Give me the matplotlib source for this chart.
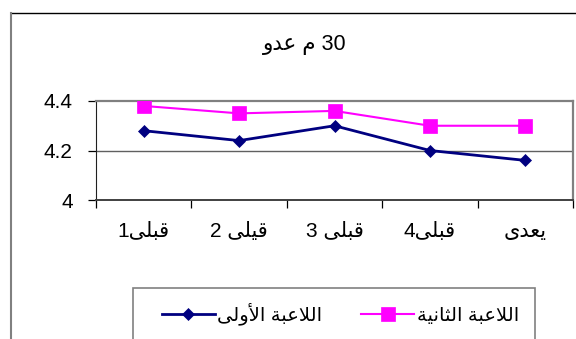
import re
import numpy as np
import matplotlib
matplotlib.use("Agg")
import matplotlib.pyplot as plt
from matplotlib.lines import Line2D
from matplotlib.patches import Rectangle

plt.rcParams['font.family'] = ['Liberation Sans', 'DejaVu Sans']

# data
title = "30 م عدو"
categories = ["قبلى1", "قيلى 2", "قبلى 3", "قبلى4", "يعدى"]
series_names = ["اللاعبة الأولى", "اللاعبة الثانية"]
player1 = [4.28, 4.24, 4.30, 4.20, 4.16]
player2 = [4.38, 4.35, 4.36, 4.30, 4.30]
yticks = [4.0, 4.2, 4.4]
ytick_labels = ["4", "4.2", "4.4"]

# ----------------------------------------------------------------------------
# matplotlib has no arabic shaping, so do a small one by hand
# (isolated, final, initial, medial) presentation forms
# ----------------------------------------------------------------------------
FORMS = {
    'ا': ('\uFE8D', '\uFE8E', None, None),
    'أ': ('\uFE83', '\uFE84', None, None),
    'ب': ('\uFE8F', '\uFE90', '\uFE91', '\uFE92'),
    'ة': ('\uFE93', '\uFE94', None, None),
    'ث': ('\uFE99', '\uFE9A', '\uFE9B', '\uFE9C'),
    'د': ('\uFEA9', '\uFEAA', None, None),
    'ع': ('\uFEC9', '\uFECA', '\uFECB', '\uFECC'),
    'ق': ('\uFED5', '\uFED6', '\uFED7', '\uFED8'),
    'ل': ('\uFEDD', '\uFEDE', '\uFEDF', '\uFEE0'),
    'م': ('\uFEE1', '\uFEE2', '\uFEE3', '\uFEE4'),
    'ن': ('\uFEE5', '\uFEE6', '\uFEE7', '\uFEE8'),
    'و': ('\uFEED', '\uFEEE', None, None),
    'ى': ('\uFEEF', '\uFEF0', '\uFBE8', '\uFBE9'),
    'ي': ('\uFEF1', '\uFEF2', '\uFEF3', '\uFEF4'),
    'لا': ('\uFEFB', '\uFEFC', None, None),
    'لأ': ('\uFEF7', '\uFEF8', None, None),
}


def shape_word(word):
    units = []
    i = 0
    while i < len(word):
        if word[i] == 'ل' and i + 1 < len(word) and word[i:i + 2] in FORMS:
            units.append(word[i:i + 2])
            i += 2
        else:
            units.append(word[i])
            i += 1
    out = []
    for k, u in enumerate(units):
        f = FORMS[u]
        joins_prev = k > 0 and FORMS[units[k - 1]][2] is not None
        joins_next = f[2] is not None and k + 1 < len(units)
        if joins_prev and joins_next:
            out.append(f[3])
        elif joins_prev:
            out.append(f[1])
        elif joins_next:
            out.append(f[2])
        else:
            out.append(f[0])
    return ''.join(reversed(out))


def ar(text):
    # rtl paragraph: reverse the runs, shape the arabic ones
    tokens = re.findall(r'[\u0600-\u06FF]+|\d+|\s+|.', text)
    vis = []
    for t in reversed(tokens):
        vis.append(shape_word(t) if t[0] in FORMS or t[0] in 'لأ' else t)
    return ''.join(vis)


# ----------------------------------------------------------------------------
# plot
# ----------------------------------------------------------------------------
W, H = 576, 339
fig = plt.figure(figsize=(W / 100, H / 100), dpi=100)

# chart frame (cut off at the right and bottom)
fig.add_artist(Line2D([11 / W, 1], [1 - 13 / H] * 2, transform=fig.transFigure,
                      color='black', lw=1.0))
fig.add_artist(Line2D([11 / W] * 2, [1 - 13 / H, 0], transform=fig.transFigure,
                      color='#808080', lw=1.5))

ax = fig.add_axes([96 / W, 1 - 200 / H, 477 / W, 99 / H])
x = np.arange(len(categories))

ax.plot(x, player1, color='#000080', lw=2.0, marker='D', markersize=6.5,
        markeredgewidth=0.5, label=ar(series_names[0]), zorder=3)
ax.plot(x, player2, color='#FF00FF', lw=1.5, marker='s', markersize=9.5,
        markeredgewidth=0.5, label=ar(series_names[1]), zorder=3)

ax.set_xlim(-0.5, len(categories) - 0.5)
ax.set_ylim(4.0, 4.4)

ax.set_yticks(yticks)
ax.set_yticklabels(ytick_labels, fontsize=15)
ax.tick_params(axis='y', direction='out', length=5.8, width=0.9, pad=11)

# ticks between categories, labels at centres
ax.set_xticks(np.arange(-0.5, len(categories), 1))
ax.set_xticklabels([])
ax.set_xticks(x, minor=True)
ax.set_xticklabels([ar(c) for c in categories], minor=True, fontsize=15)
ax.tick_params(axis='x', which='major', direction='out', length=5.8, width=0.9)
ax.tick_params(axis='x', which='minor', length=0, pad=16)

ax.axhline(4.2, color='#606060', lw=1.0, zorder=1)
for side in ['top', 'right']:
    ax.spines[side].set_color('#808080')
    ax.spines[side].set_linewidth(1.6)
ax.spines['left'].set_color('#202020')
ax.spines['bottom'].set_color('#404040')
ax.spines['bottom'].set_linewidth(1.4)

fig.text(305 / W, 1 - 50 / H, ar(title), ha='center', va='baseline', fontsize=15.5)

# legend box, also cut off at the bottom
fig.add_artist(Rectangle((133 / W, -0.05), (535 - 133) / W, 1 - 288 / H + 0.05,
                         transform=fig.transFigure, fill=False,
                         edgecolor='#808080', lw=1.2))
fig.legend(loc='center left', bbox_to_anchor=(162 / W, 1 - 314 / H), ncol=2,
           frameon=False, borderpad=0, borderaxespad=0, fontsize=14,
           handlelength=2.7, handletextpad=0.15, columnspacing=2.0)

fig.savefig('out.png', dpi=100)
